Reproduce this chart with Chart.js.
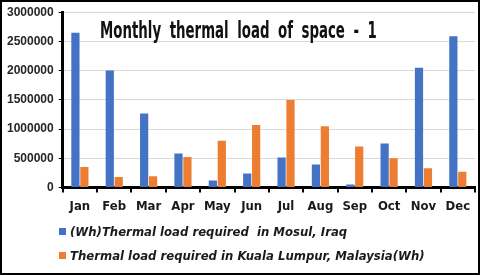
<!DOCTYPE html>
<html lang="en">
<head>
<meta charset="UTF-8">
<title>Monthly thermal load of space - 1</title>
<script src="https://cdn.jsdelivr.net/npm/chart.js@4"></script>
<style>
  html, body { margin: 0; padding: 0; background: #fff; }
  .frame {
    position: relative;
    width: 480px;
    height: 275px;
    box-sizing: border-box;
    border: 2px solid #000;
    overflow: hidden;
  }
  #chart { position: absolute; left: -2px; top: -2px; }
  .title {
    position: absolute;
    left: 98px;
    top: 15px;
    font-family: 'Liberation Sans Narrow', 'DejaVu Sans Condensed', sans-serif;
    font-weight: bold;
    font-size: 23px;
    word-spacing: 6px;
    color: #111;
    transform: scaleX(0.645);
    transform-origin: left top;
    white-space: nowrap;
  }
  .legend {
    position: absolute;
    left: 57px;
    top: 220px;
    font-family: 'DejaVu Sans', Verdana, sans-serif;
    font-weight: bold;
    font-style: italic;
    font-size: 11.7px;
    color: #1a1a1a;
  }
  .legend div { height: 24px; line-height: 20px; white-space: nowrap; }
  .legend span.box {
    display: inline-block;
    width: 7px;
    height: 7px;
    margin-right: 4px;
    vertical-align: 1px;
  }
</style>
</head>
<body>
<div class="frame">
  <canvas id="chart" width="480" height="276"></canvas>
  <div class="title">Monthly thermal load of space - 1</div>
  <div class="legend" id="legend"></div>
</div>
<script>
  // Data
  const months = ['Jan', 'Feb', 'Mar', 'Apr', 'May', 'Jun', 'Jul', 'Aug', 'Sep', 'Oct', 'Nov', 'Dec'];
  const mosulLoad = [2650000, 2000000, 1265000, 580000, 120000, 240000, 510000, 390000, 50000, 750000, 2050000, 2590000];
  const kualaLumpurLoad = [350000, 180000, 190000, 520000, 800000, 1070000, 1495000, 1045000, 700000, 500000, 330000, 270000];
  const seriesNames = [
    '(Wh)Thermal load required\u00a0 in Mosul, Iraq',
    'Thermal load required in Kuala Lumpur, Malaysia(Wh)'
  ];
  const seriesColors = ['#4472C4', '#ED7D31'];

  // HTML legend (two rows, left aligned like the original)
  const legendEl = document.getElementById('legend');
  seriesNames.forEach((name, i) => {
    const row = document.createElement('div');
    row.innerHTML = '<span class="box" style="background:' + seriesColors[i] + '"></span>' + name;
    legendEl.appendChild(row);
  });

  new Chart(document.getElementById('chart'), {
    type: 'bar',
    data: {
      labels: months,
      datasets: [
        {
          label: seriesNames[0],
          data: mosulLoad,
          backgroundColor: seriesColors[0],
          categoryPercentage: 0.52,
          barPercentage: 0.92
        },
        {
          label: seriesNames[1],
          data: kualaLumpurLoad,
          backgroundColor: seriesColors[1],
          categoryPercentage: 0.52,
          barPercentage: 0.92
        }
      ]
    },
    options: {
      responsive: false,
      animation: false,
      layout: { padding: { left: 2, right: 5, top: 8, bottom: 56 } },
      plugins: {
        legend: { display: false },
        title: { display: false },
        tooltip: { enabled: false }
      },
      scales: {
        x: {
          grid: {
            drawOnChartArea: false,
            color: '#000',
            lineWidth: 2,
            tickLength: 5
          },
          border: { color: '#000', width: 3 },
          ticks: {
            color: '#1a1a1a',
            padding: 6,
            maxRotation: 0,
            autoSkip: false,
            font: { family: "'Liberation Sans Narrow', 'DejaVu Sans Condensed', sans-serif", weight: 'bold', size: 13 }
          }
        },
        y: {
          min: 0,
          max: 3000000,
          ticks: {
            stepSize: 500000,
            color: '#262626',
            padding: 5,
            callback: value => String(value),
            font: { family: "'Liberation Sans', Arial, sans-serif", weight: 'bold', size: 12 }
          },
          grid: {
            color: '#d9d9d9',
            tickColor: '#000',
            tickLength: 4,
            lineWidth: 1
          },
          border: { color: '#000', width: 3 }
        }
      }
    }
  });
</script>
</body>
</html>
